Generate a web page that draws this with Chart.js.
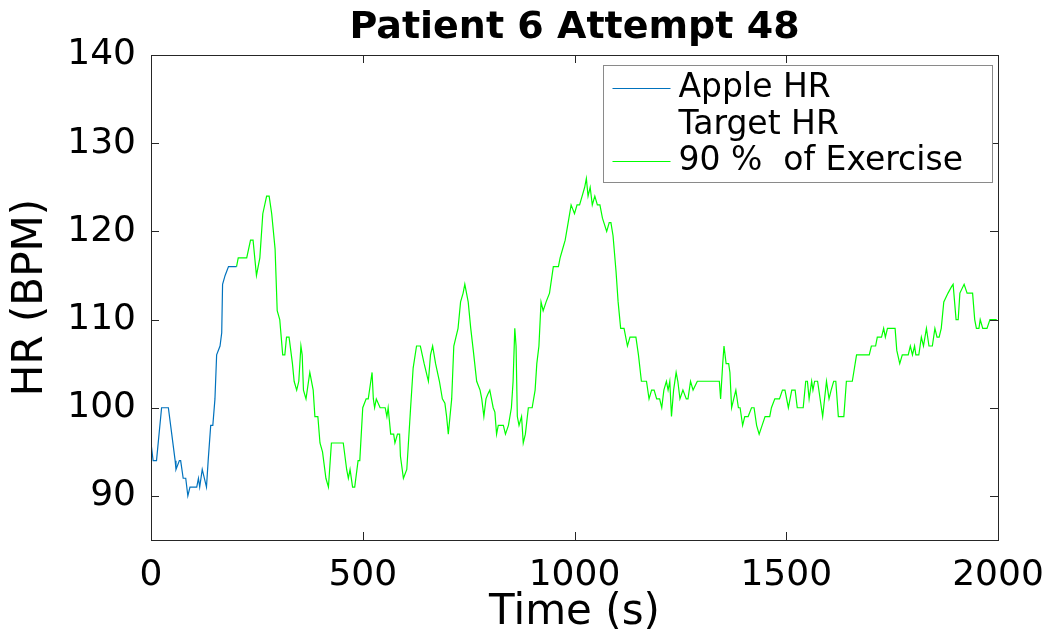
<!DOCTYPE html>
<html>
<head>
<meta charset="utf-8">
<script src="https://cdn.jsdelivr.net/npm/chart.js@4.4.1/dist/chart.umd.min.js"></script>
<style>
  html, body { margin: 0; padding: 0; background: #fff; }
  #wrap { width: 1052px; height: 640px; position: relative; }
</style>
</head>
<body>
<div id="wrap"><canvas id="hrChart"></canvas></div>
<script>
// Chart Data
const appleTime = [0, 5, 13, 25, 41, 49, 57, 59, 67, 70, 76, 82, 87, 92, 108, 112, 115, 121, 131, 135, 141, 146, 151, 155, 163, 167, 169, 175, 183, 202];
const appleHR = [96, 94, 94, 100, 100, 97, 94, 93, 94, 94, 92, 92, 90, 91, 91, 92, 91, 93, 91, 94, 98, 98, 101, 106, 107, 108.5, 114, 115, 116, 116];

const exerciseTime = [202, 206, 226, 235, 241, 249, 257, 264, 273, 279, 285, 293, 298, 304, 311, 316, 320, 326, 334, 338,
  344, 349, 354, 357, 360, 366, 375, 383, 387, 394, 399, 405, 413, 419, 426, 454, 462, 466, 470, 476,
  481, 489, 493, 500, 508, 513, 519, 522, 525, 528, 532, 541, 553, 557, 560, 566, 573, 576, 582, 587,
  589, 596, 604, 613, 619, 627, 636, 645, 655, 660, 665, 672, 681, 688, 694, 698, 702, 706, 710, 715,
  725, 731, 737, 741, 749, 755, 761, 769, 777, 781, 786, 791, 795, 800, 808, 812, 816, 820, 832, 837,
  844, 851, 855, 859, 862, 865, 869, 875, 879, 884, 891, 900, 907, 911, 916, 921, 926, 933, 941, 950,
  962, 966, 972, 978, 985, 992, 1000, 1006, 1012, 1018, 1024, 1028, 1032, 1037, 1042, 1048, 1054, 1060, 1066, 1076,
  1082, 1086, 1091, 1098, 1103, 1109, 1117, 1125, 1131, 1145, 1151, 1158, 1170, 1176, 1182, 1188, 1194, 1201, 1206, 1211,
  1217, 1221, 1225, 1229, 1234, 1240, 1244, 1249, 1256, 1264, 1268, 1274, 1280, 1290, 1342, 1345, 1350, 1353, 1358, 1364,
  1367, 1371, 1376, 1381, 1387, 1391, 1397, 1402, 1410, 1418, 1424, 1430, 1436, 1443, 1450, 1461, 1465, 1473, 1484, 1491,
  1497, 1505, 1513, 1521, 1526, 1540, 1546, 1550, 1554, 1560, 1563, 1567, 1574, 1586, 1595, 1601, 1606, 1612, 1617, 1623,
  1636, 1642, 1656, 1666, 1696, 1701, 1711, 1715, 1725, 1730, 1734, 1739, 1757, 1761, 1768, 1774, 1788, 1793, 1798, 1803,
  1806, 1813, 1819, 1824, 1831, 1837, 1845, 1851, 1856, 1861, 1866, 1872, 1882, 1890, 1894, 1901, 1906, 1910, 1920, 1927,
  1940, 1945, 1949, 1955, 1958, 1964, 1974, 1981, 1997];
const exerciseHR = [116, 117, 117, 119, 119, 115, 117, 122, 124, 124, 122, 118, 111, 110, 106, 106, 108, 108, 105, 103,
  102, 103, 107, 106, 102, 101, 104, 102, 99, 99, 96, 95, 92, 91, 96, 96, 93, 92, 93, 91,
  91, 94, 94, 100, 101, 101, 103, 104, 101, 100, 101, 100, 100, 99, 100, 97, 97, 96, 97, 97,
  94.5, 92, 93, 100, 104.5, 107, 107, 105, 103, 106, 107, 105, 103, 101, 100.5, 99, 97, 99, 101, 107,
  109, 112, 113, 114, 112, 109, 106.5, 103, 102, 101, 99, 101, 101.5, 102, 100, 99.5, 97, 98, 98, 97,
  98, 100, 103, 109, 107, 99, 98, 99, 96, 97, 100, 100, 102, 105, 107, 112, 111, 112, 113, 116,
  116, 117, 118, 119, 121, 123, 122, 123, 123, 124, 125, 126, 124, 125, 123, 124, 123, 123, 121.5, 120,
  121, 121, 119.5, 115.5, 112, 109, 109, 107, 108, 108, 106, 103, 103, 101, 102, 102, 101, 101, 100, 102,
  103, 102, 103, 99, 102, 104, 103, 101, 102, 101, 101, 103, 102, 103, 103, 101, 105, 107, 105, 105,
  104, 100, 101, 102, 100, 100, 98, 99, 99, 100, 100, 98, 97, 98, 99, 99, 100, 101, 101, 102,
  102, 100, 102, 102, 100, 100, 103, 103, 101, 103, 102, 103, 103, 99, 103, 101, 102, 103, 103, 99,
  99, 103, 103, 106, 106, 107, 107, 108, 108, 109, 108, 109, 109, 106.5, 105, 106, 106, 107, 106, 107,
  106, 106, 108, 107, 109, 107, 107, 109, 108, 108, 109, 112, 113, 113.7, 114, 110, 110, 113, 114, 113,
  113, 110, 109, 109, 110, 109, 109, 110, 110];

const xTicks = [0, 500, 1000, 1500, 2000];
const yTicks = [90, 100, 110, 120, 130, 140];
const seriesLabels = ["Apple HR", "Target HR", "90 %  of Exercise"];

const FONT = "'DejaVu Sans', sans-serif";
const AXIS_COLOR = "#262626";
const TEXT_COLOR = "#000";

const toPoints = (xs, ys) => xs.map((t, i) => ({ x: t, y: ys[i] }));

// frame, inward ticks and boxed legend drawn on top (matlab look)
const matlabAxes = {
  id: "matlabAxes",
  afterDatasetsDraw(chart) {
    const { ctx, chartArea: ca, scales } = chart;
    ctx.save();
    ctx.strokeStyle = AXIS_COLOR;
    ctx.lineWidth = 1;
    ctx.strokeRect(Math.round(ca.left) + 0.5, Math.round(ca.top) + 0.5,
      Math.round(ca.right - ca.left), Math.round(ca.bottom - ca.top));
    ctx.beginPath();
    yTicks.forEach((v) => {
      const y = Math.round(scales.y.getPixelForValue(v)) + 0.5;
      ctx.moveTo(ca.left, y); ctx.lineTo(ca.left + 8, y);
      ctx.moveTo(ca.right, y); ctx.lineTo(ca.right - 8, y);
    });
    xTicks.forEach((v) => {
      const x = Math.round(scales.x.getPixelForValue(v)) + 0.5;
      ctx.moveTo(x, ca.bottom); ctx.lineTo(x, ca.bottom - 8);
      ctx.moveTo(x, ca.top); ctx.lineTo(x, ca.top + 8);
    });
    ctx.stroke();
    ctx.restore();
  },
  afterDraw(chart) {
    const { ctx, chartArea: ca } = chart;
    const boxW = 389, boxH = 117;
    const bx = Math.round(ca.right - 6 - boxW) + 0.5;
    const by = Math.round(ca.top + 10) + 0.5;
    ctx.save();
    ctx.fillStyle = "#fff";
    ctx.fillRect(bx, by, boxW, boxH);
    ctx.strokeStyle = "#8a8a8a";
    ctx.lineWidth = 1;
    ctx.strokeRect(bx, by, boxW, boxH);
    ctx.font = "33px " + FONT;
    ctx.textBaseline = "middle";
    ctx.fillStyle = TEXT_COLOR;
    chart.data.datasets.forEach((ds, i) => {
      const cy = by + 22 + i * 36.5;
      if (ds.data.length) {
        ctx.strokeStyle = ds.borderColor;
        ctx.lineWidth = 1.2;
        ctx.beginPath();
        ctx.moveTo(bx + 9, Math.round(cy) + 0.5);
        ctx.lineTo(bx + 67, Math.round(cy) + 0.5);
        ctx.stroke();
      }
      ctx.fillText(ds.label, bx + 75, cy + 1);
    });
    ctx.restore();
  },
};

const ctx = document.getElementById("hrChart").getContext("2d");
const hrChart = new Chart(ctx, {
  type: "line",
  data: {
    datasets: [
      {
        label: seriesLabels[0],
        data: toPoints(appleTime, appleHR),
        borderColor: "#0072BD",
        borderWidth: 1.2,
        pointRadius: 0,
        tension: 0,
      },
      {
        label: seriesLabels[1],
        data: [],
        borderColor: "rgba(0,0,0,0)",
        pointRadius: 0,
      },
      {
        label: seriesLabels[2],
        data: toPoints(exerciseTime, exerciseHR),
        borderColor: "#00FF00",
        borderWidth: 1.2,
        pointRadius: 0,
        tension: 0,
      },
    ],
  },
  options: {
    responsive: true,
    maintainAspectRatio: false,
    animation: false,
    layout: { padding: { left: 0, right: 54, top: 0, bottom: 0 } },
    plugins: {
      legend: { display: false },
      tooltip: { enabled: false },
      title: {
        display: true,
        text: "Patient 6 Attempt 48",
        fullSize: false,
        color: TEXT_COLOR,
        font: { family: FONT, size: 38, weight: "bold", lineHeight: 1 },
        padding: { top: 9, bottom: 8 },
      },
    },
    scales: {
      x: {
        type: "linear",
        min: 0,
        max: 2000,
        afterBuildTicks: (scale) => { scale.ticks = xTicks.map((v) => ({ value: v })); },
        afterFit: (scale) => {
          scale.height = 100;
          scale.paddingLeft = 0;
          scale.paddingRight = 0;
        },
        ticks: {
          color: TEXT_COLOR,
          padding: 14,
          maxRotation: 0,
          font: { family: FONT, size: 36 },
          callback: (v) => String(v),
        },
        grid: { display: false, drawTicks: false },
        border: { display: false },
        title: {
          display: true,
          text: "Time (s)",
          color: TEXT_COLOR,
          font: { family: FONT, size: 42 },
          padding: { top: 0, bottom: 2 },
        },
      },
      y: {
        min: 85,
        max: 140,
        afterBuildTicks: (scale) => { scale.ticks = yTicks.map((v) => ({ value: v })); },
        afterFit: (scale) => { scale.width = 151; },
        ticks: { color: TEXT_COLOR, padding: 15, font: { family: FONT, size: 36 } },
        grid: { display: false, drawTicks: false },
        border: { display: false },
        title: {
          display: true,
          text: "HR (BPM)",
          color: TEXT_COLOR,
          font: { family: FONT, size: 42 },
          padding: { top: 6, bottom: 0 },
        },
      },
    },
  },
  plugins: [matlabAxes],
});
</script>
</body>
</html>
